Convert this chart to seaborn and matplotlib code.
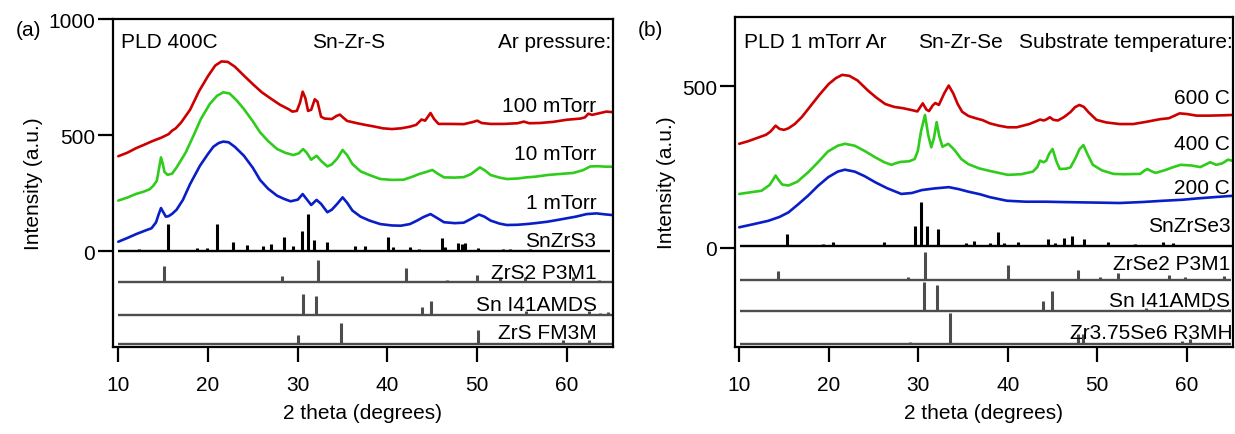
import matplotlib
matplotlib.use("Agg")
import matplotlib.pyplot as plt
import seaborn as sns

# ---------------- Panel (a): Sn-Zr-S, Ar pressure series ----------------
a100_x = [10.0, 11.0, 12.0, 12.8, 13.8, 14.8, 15.6, 16.0, 16.4, 17.0, 18.0, 19.0, 20.0, 20.8, 21.5, 22.2, 23.0,
          24.0, 25.0, 26.0, 27.0, 28.0, 29.0, 29.4, 29.9, 30.25, 30.55, 30.85, 31.15, 31.5, 31.9, 32.2, 32.6,
          33.0, 33.8, 34.3, 34.7, 35.1, 35.5, 36.5, 37.5, 38.5, 39.5, 40.5, 41.5, 42.5, 43.2, 43.8, 44.2, 44.8,
          45.2, 45.7, 47.0, 48.5, 49.5, 50.0, 50.5, 51.5, 53.0, 54.5, 55.2, 55.8, 57.0, 58.5, 60.0, 61.5, 62.0,
          62.4, 62.8, 63.5, 64.4, 65.0]
a100_y = [410, 425, 445, 458, 475, 490, 505, 520, 530, 555, 610, 690, 755, 800, 818, 816, 795,
          757, 720, 685, 658, 632, 612, 602, 605, 640, 688, 660, 605, 610, 655, 645, 580,
          572, 570, 583, 589, 575, 562, 553, 545, 538, 530, 527, 530, 537, 545, 568, 563, 596,
          570, 549, 549, 548, 557, 563, 553, 549, 549, 552, 559, 552, 553, 558, 567, 572, 577,
          593, 588, 594, 602, 600]

a10_x = [10.0, 11.0, 12.0, 12.8, 13.5, 13.9, 14.3, 14.55, 14.76, 14.95, 15.15, 15.5, 16.0, 16.5, 17.5, 18.4,
         19.2, 20.2, 21.0, 21.7, 22.4, 23.2, 24.0, 25.0, 25.8, 26.7, 27.7, 28.6, 29.5, 30.1, 30.6, 31.0, 31.5,
         32.1, 32.6, 33.3, 33.8, 34.4, 35.0, 35.5, 36.1, 37.0, 38.0, 39.2, 40.5, 41.8, 42.8, 43.5, 44.3, 45.0,
         45.6, 46.3, 47.5, 48.5, 49.3, 50.3, 50.9, 51.5, 52.5, 53.3, 54.5, 55.5, 56.5, 57.8, 59.0, 60.7, 61.8,
         62.6, 63.5, 64.3, 65.0]
a10_y = [219, 232, 248, 257, 268, 283, 305, 360, 405, 378, 342, 330, 335, 362, 425, 500,
         570, 635, 670, 685, 680, 650, 613, 560, 513, 475, 441, 425, 415, 422, 441, 425, 395,
         412, 390, 366, 375, 400, 437, 415, 376, 345, 329, 312, 308, 309, 322, 333, 342, 351,
         335, 319, 318, 320, 333, 362, 348, 329, 318, 312, 314, 319, 322, 329, 333, 338, 350,
         366, 367, 365, 365]

a1_x = [10.0, 11.0, 12.0, 13.0, 13.7, 14.2, 14.5, 14.76, 15.0, 15.3, 15.6, 16.0, 16.5, 17.2, 18.0, 19.1,
        20.0, 20.6, 21.2, 21.7, 22.3, 23.0, 24.0, 25.0, 25.8, 26.7, 27.7, 28.5, 29.2, 30.0, 30.55, 31.0,
        31.5, 32.1, 32.6, 33.3, 33.8, 34.4, 35.0, 35.5, 36.1, 37.0, 38.0, 39.2, 40.5, 41.5, 42.5, 43.3, 44.0,
        44.8, 45.5, 46.3, 47.5, 48.5, 49.3, 50.2, 50.8, 51.5, 52.5, 53.3, 54.5, 55.5, 56.5, 57.8, 59.0, 60.0,
        61.0, 62.2, 63.3, 64.2, 65.0]
a1_y = [42, 58, 75, 90, 100, 125, 160, 187, 170, 150, 152, 162, 180, 222, 290, 369,
        420, 451, 467, 473, 470, 450, 412, 360, 308, 270, 240, 226, 216, 223, 247, 225,
        200, 222, 205, 169, 180, 205, 233, 210, 176, 150, 133, 118, 112, 111, 118, 133, 148,
        161, 145, 126, 122, 124, 140, 159, 150, 133, 120, 114, 115, 118, 122, 128, 136, 143,
        150, 161, 164, 160, 157]

snzrs3_pos = [12.3, 15.57, 18.8, 19.85, 21.04, 22.75, 24.31, 26.17, 26.99, 28.43, 29.44, 30.48, 31.18, 31.82,
              33.23, 34.71, 36.39, 37.5, 40.1, 40.66, 42.52, 43.56, 46.05, 46.42, 47.83, 48.28, 48.65, 50.14,
              51.45, 52.93, 53.7, 55.9, 57.77, 59.26, 60.74, 62.97]
snzrs3_h = [12, 118, 15, 15, 120, 40, 29, 22, 33, 62, 22, 90, 162, 50,
            40, 7, 22, 25, 62, 19, 19, 12, 59, 19, 36, 33, 36, 15,
            7, 12, 12, 12, 7, 7, 7, 4]

zrs2_pos = [15.13, 28.2, 32.24, 42.1, 46.6, 49.95, 52.5, 55.3, 60.7, 63.6]
zrs2_h = [66, 23, 93, 59, 9, 30, 19, 19, 22, 7]

sn_s_pos = [30.55, 32.0, 43.9, 44.86, 55.4, 62.5, 63.7, 64.6]
sn_s_h = [89, 79, 32, 57, 14, 14, 7, 10]

zrs_pos = [30.0, 34.77, 50.07, 59.54, 62.5]
zrs_h = [40, 89, 60, 17, 17]

# ---------------- Panel (b): Sn-Zr-Se, substrate temperature series ----------------
b600_x = [10.0, 11.0, 12.0, 13.0, 13.5, 14.06, 14.5, 15.0, 15.5, 16.2, 17.0, 18.0, 19.0, 20.0, 20.8, 21.5,
          22.3, 23.2, 24.4, 25.3, 26.3, 27.3, 28.3, 29.3, 29.9, 30.5, 30.9, 31.2, 31.6, 31.9, 32.3, 32.9,
          33.4, 33.9, 34.4, 34.9, 35.6, 36.4, 37.2, 38.0, 39.0, 40.0, 41.0, 42.4, 43.2, 43.6, 44.0, 44.3,
          44.7, 45.1, 45.6, 46.3, 47.0, 47.5, 48.0, 48.5, 49.0, 49.9, 51.0, 52.5, 54.0, 55.5, 57.0, 58.0,
          59.2, 60.0, 61.1, 62.5, 64.0, 65.0]
b600_y = [322, 330, 340, 350, 360, 378, 368, 365, 370, 383, 405, 440, 475, 507, 525, 535,
          532, 518, 486, 465, 445, 436, 432, 426, 422, 447, 428, 423, 440, 448, 442, 478,
          502, 478, 445, 421, 408, 401, 395, 385, 378, 373, 373, 383, 392, 397, 394, 397,
          404, 396, 394, 405, 420, 435, 442, 436, 420, 396, 388, 383, 383, 390, 398, 401,
          416, 414, 409, 409, 410, 411]

b400_x = [10.0, 11.0, 12.5, 13.4, 13.8, 14.06, 14.4, 14.8, 15.5, 16.5, 17.7, 18.8, 19.9, 21.0, 21.8, 22.9,
          24.0, 25.2, 26.2, 27.0, 27.5, 28.0, 29.0, 29.6, 29.95, 30.3, 30.75, 31.1, 31.45, 31.75, 32.05, 32.35,
          32.7, 33.35, 33.8, 34.1, 34.8, 35.6, 36.8, 38.0, 39.0, 40.0, 41.5, 42.8, 43.3, 43.6, 44.0, 44.3,
          44.6, 45.0, 45.4, 45.8, 46.5, 47.0, 47.6, 48.0, 48.45, 48.9, 49.5, 50.5, 51.8, 53.0, 54.8, 55.3,
          55.6, 56.0, 56.5, 57.5, 58.5, 59.3, 60.5, 61.5, 62.1, 62.6, 63.3, 64.0, 64.6, 65.0]
b400_y = [167, 171, 177, 195, 212, 224, 210, 196, 193, 205, 234, 265, 298, 316, 322, 316,
          300, 280, 265, 257, 262, 266, 268, 275, 300, 360, 411, 350, 311, 340, 389, 345,
          313, 322, 310, 301, 275, 259, 246, 238, 232, 226, 228, 236, 250, 270, 265, 270,
          290, 306, 270, 244, 245, 249, 280, 305, 318, 290, 257, 240, 229, 228, 229, 240,
          244, 238, 232, 240, 250, 257, 255, 250, 258, 265, 257, 262, 273, 270]

b200_x = [10.0, 11.5, 13.25, 14.5, 15.5, 16.5, 17.7, 18.8, 19.95, 21.0, 21.8, 22.9, 24.0, 25.2, 26.5, 28.1,
          29.3, 30.4, 31.8, 33.4, 34.5, 35.6, 36.9, 38.0, 39.9, 42.0, 44.3, 46.0, 48.1, 50.5, 52.5, 55.0,
          57.4, 59.5, 61.1, 63.0, 65.0]
b200_y = [64, 73, 84, 96, 110, 133, 162, 192, 219, 236, 242, 236, 222, 203, 185, 167,
          170, 179, 184, 188, 182, 174, 166, 157, 146, 143, 143, 142, 141, 140, 139, 142,
          146, 149, 153, 157, 161]

snzrse3_pos = [12.12, 15.29, 19.39, 20.5, 22.18, 23.85, 26.16, 27.77, 29.63, 30.3, 30.93, 32.23, 35.33, 36.26,
               38.0, 38.86, 39.57, 41.1, 42.03, 44.52, 45.27, 46.31, 47.21, 48.51, 51.16, 54.21, 57.37, 58.49,
               59.42, 63.71]
snzrse3_h = [5, 38, 7, 15, 5, 5, 12, 5, 62, 137, 64, 55, 10, 18,
             10, 43, 10, 12, 5, 23, 10, 26, 33, 23, 12, 7, 15, 10,
             5, 5]

zrse2_pos = [14.28, 28.88, 30.78, 39.98, 47.88, 50.3, 52.35, 58.04, 59.8, 64.19]
zrse2_h = [26, 7, 85, 45, 30, 7, 20, 14, 7, 12]

sn_se_pos = [30.63, 32.05, 43.97, 44.97, 55.44, 62.59, 63.89, 64.71]
sn_se_h = [90, 81, 33, 62, 12, 12, 7, 7]

zr375se6_pos = [29.07, 33.54, 47.88, 48.44, 59.42, 60.35]
zr375se6_h = [5, 95, 31, 31, 10, 15]

x_ticks = [10, 20, 30, 40, 50, 60]

# ---------------- Styling ----------------
sns.set_style("ticks")
plt.rcParams['font.family'] = ['Liberation Sans', 'DejaVu Sans']
plt.rcParams['text.color'] = 'black'
plt.rcParams['axes.labelcolor'] = 'black'
FS = 15
RED, GREEN, BLUE = "#cc0000", "#2fcc1c", "#0a1ec8"
GRAY = "#4d4d4d"

fig = plt.figure(figsize=(12.35, 4.35), dpi=100)
axA = fig.add_axes([0.0915, 0.2, 0.4045, 0.754])
axB = fig.add_axes([0.5951, 0.2, 0.4033, 0.758])


def style_axes(ax, xlim, ylim, yticks):
    ax.set_xlim(*xlim)
    ax.set_ylim(*ylim)
    ax.set_xticks(x_ticks)
    ax.set_yticks(yticks)
    for s in ax.spines.values():
        s.set_linewidth(1.6)
        s.set_color("black")
        s.set_visible(True)
    ax.tick_params(axis="both", direction="out", length=11, width=1.6, labelsize=FS, colors="black",
                   top=False, right=False)
    ax.tick_params(axis="x", pad=9)
    ax.tick_params(axis="y", pad=2)
    ax.set_xlabel("2 theta (degrees)", fontsize=FS, labelpad=7, color="black")
    ax.set_ylabel("Intensity (a.u.)", fontsize=FS, labelpad=4, color="black")


def curve(ax, xs, ys, color):
    sns.lineplot(x=xs, y=ys, ax=ax, color=color, lw=1.9, estimator=None, sort=False)


def sticks(ax, pos, h, base, color, lw, x0, x1):
    ax.hlines(base, x0, x1, color=color, lw=lw)
    ax.vlines(pos, base, [base + v for v in h], color=color, lw=lw + 0.5)


# ---- Panel (a)
style_axes(axA, (9.41, 65.09), (-411, 1000.5), [0, 500, 1000])
curve(axA, a100_x, a100_y, RED)
curve(axA, a10_x, a10_y, GREEN)
curve(axA, a1_x, a1_y, BLUE)
sticks(axA, snzrs3_pos, snzrs3_h, 0, "black", 1.7, 10.0, 64.8)
sticks(axA, zrs2_pos, zrs2_h, -130, GRAY, 1.7, 10.0, 65.0)
sticks(axA, sn_s_pos, sn_s_h, -272, GRAY, 1.7, 10.0, 65.0)
sticks(axA, zrs_pos, zrs_h, -398, GRAY, 1.7, 10.0, 65.0)

lab_kw = dict(fontsize=FS, ha="right", va="center", color="black")
xr = 63.3
axA.text(xr, 627, "100 mTorr", **lab_kw)
axA.text(xr, 420, "10 mTorr", **lab_kw)
axA.text(xr, 209, "1 mTorr", **lab_kw)
axA.text(xr, 48, "SnZrS3", **lab_kw)
axA.text(xr, -90, "ZrS2 P3M1", **lab_kw)
axA.text(xr, -226, "Sn I41AMDS", **lab_kw)
axA.text(xr, -348, "ZrS FM3M", **lab_kw)
axA.text(10.3, 903, "PLD 400C", fontsize=FS, ha="left", va="center")
axA.text(35.7, 903, "Sn-Zr-S", fontsize=FS, ha="center", va="center")
axA.text(64.95, 903, "Ar pressure:", fontsize=FS, ha="right", va="center")

# ---- Panel (b)
style_axes(axB, (9.52, 65.16), (-306, 713), [0, 500])
curve(axB, b600_x, b600_y, RED)
curve(axB, b400_x, b400_y, GREEN)
curve(axB, b200_x, b200_y, BLUE)
sticks(axB, snzrse3_pos, snzrse3_h, 5, "black", 1.7, 10.05, 65.0)
sticks(axB, zrse2_pos, zrse2_h, -98, GRAY, 1.7, 10.05, 64.9)
sticks(axB, sn_se_pos, sn_se_h, -196, GRAY, 1.7, 10.05, 64.9)
sticks(axB, zr375se6_pos, zr375se6_h, -297, GRAY, 1.7, 10.05, 64.9)

xr = 64.85
axB.text(xr, 466, "600 C", **lab_kw)
axB.text(xr, 322, "400 C", **lab_kw)
axB.text(xr, 188, "200 C", **lab_kw)
axB.text(xr, 69, "SnZrSe3", **lab_kw)
axB.text(xr, -49, "ZrSe2 P3M1", **lab_kw)
axB.text(xr, -161, "Sn I41AMDS", **lab_kw)
axB.text(65.1, -261, "Zr3.75Se6 R3MH", **lab_kw)
axB.text(10.5, 638, "PLD 1 mTorr Ar", fontsize=FS, ha="left", va="center")
axB.text(34.66, 638, "Sn-Zr-Se", fontsize=FS, ha="center", va="center")
axB.text(65.1, 638, "Substrate temperature:", fontsize=FS, ha="right", va="center", clip_on=False)

fig.text(16 / 1235, 1 - 31 / 435, "(a)", fontsize=FS, ha="left", va="center")
fig.text(638 / 1235, 1 - 31 / 435, "(b)", fontsize=FS, ha="left", va="center")

fig.savefig("out.png", dpi=100)
